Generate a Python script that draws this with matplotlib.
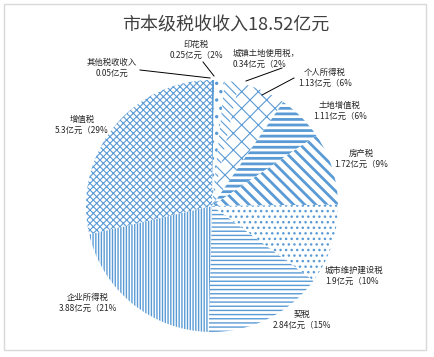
import matplotlib
matplotlib.use("Agg")
import matplotlib.pyplot as plt
from matplotlib.patches import Rectangle

plt.rcParams['font.family'] = ['Noto Sans CJK SC', 'DejaVu Sans']

# data, clockwise from 12 o'clock
names = ["其他税收收入", "印花税", "城镇土地使用税，", "个人所得税", "土地增值税",
         "房产税", "城市维护建设税", "契税", "企业所得税", "增值税"]
values = [0.05, 0.25, 0.34, 1.13, 1.11, 1.72, 1.9, 2.84, 3.88, 5.3]
value_text = ["0.05亿元", "0.25亿元（2%", "0.34亿元（2%", "1.13亿元（6%", "1.11亿元（6%",
              "1.72亿元（9%", "1.9亿元（10%", "2.84亿元（15%", "3.88亿元（21%", "5.3亿元（29%"]
title = "市本级税收收入18.52亿元"

blue = "#5B9BD5"
hatches = [None, "..", "\\\\\\\\", "xx", "---", "\\\\\\", "...", "----", "||||||", "xxxxx"]
hatch_lw = [1, 1.2, 0.8, 0.8, 2.0, 2.0, 1, 1, 1, 0.8]

# label placement in pixel coords (x, y from top), alignment, leader line end
lab_pos = [(112, 68, "center"), (196, 50, "center"), (233, 59, "left"),
           (325, 78, "center"), (340, 111, "center"), (361, 159, "center"),
           (325, 276, "left"), (302, 320, "center"), (88, 303, "center"),
           (82, 125, "center")]
leaders = {0: [(140, 70), (210, 78)], 1: [(203, 62), (214, 76)],
           2: [(282, 68), (246, 81)], 3: [(294, 78), (262, 95)]}

W, H = 434, 357
fig = plt.figure(figsize=(W / 100, H / 100), dpi=100)
ax = fig.add_axes([0, 0, 1, 1])

ax.add_patch(Rectangle((4, H - 350), 422, 346, fill=False, edgecolor="#d9d9d9", lw=1))

plt.rcParams['hatch.color'] = blue
wedges, _ = ax.pie(values, startangle=90, counterclock=False, center=(212, H - 206),
                   radius=126, frame=True)
ax.set_xlim(0, W)
ax.set_ylim(0, H)
ax.axis("off")
for w, h, lw in zip(wedges, hatches, hatch_lw):
    w.set_edgecolor(blue)
    w.set_linewidth(0)
    if h is None:
        w.set_facecolor(blue)
    else:
        w.set_facecolor("white")
        w.set_hatch(h)
        if hasattr(w, "set_hatch_linewidth"):
            w.set_hatch_linewidth(lw)

for i, (x, y, ha) in enumerate(lab_pos):
    ax.text(x, H - y, names[i] + "\n" + value_text[i], ha=ha, va="center",
            fontsize=6, color="#262626", linespacing=1.3)

for i, pts in leaders.items():
    ax.plot([pts[0][0], pts[1][0]], [H - pts[0][1], H - pts[1][1]], color="black", lw=0.7)

ax.text(226, H - 26, title, ha="center", va="center", fontsize=13, color="#404040")

fig.savefig("out.png", dpi=100)
